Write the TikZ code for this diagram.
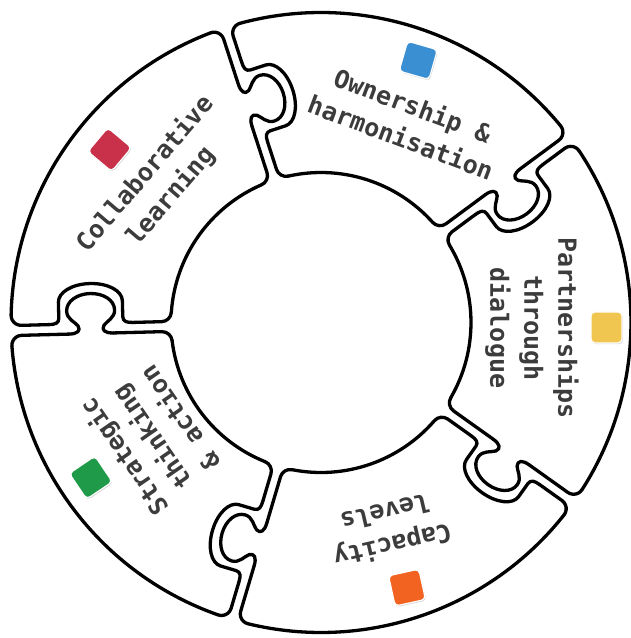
\documentclass[tikz,border=0pt]{standalone}
\usepackage{fontspec}
\newfontfamily\monof{DejaVu Sans Mono}
\usetikzlibrary{shadows}
\definecolor{txtc}{HTML}{3C3C3C}
\definecolor{cred}{HTML}{C9304A}
\definecolor{cblue}{HTML}{3A8FD3}
\definecolor{cyellow}{HTML}{F1C650}
\definecolor{corange}{HTML}{F26322}
\definecolor{cgreen}{HTML}{1F9A48}
\tikzset{
  outline/.style={draw=black,line width=3.3pt},
  lbl/.style={text=txtc,align=center,inner sep=0pt,font=\monof\bfseries\fontsize{25}{34}\selectfont},
  sq/.style={draw=white,line width=1.2pt,rounded corners=4pt,minimum size=31pt,inner sep=0pt,
    drop shadow={shadow xshift=0.8pt,shadow yshift=-1.2pt,opacity=0.35}}
}
\begin{document}
\begin{tikzpicture}[x=10pt,y=10pt,line cap=round,line join=round]
\useasboundingbox (-32.1,-31.55) rectangle (30.9,32.25);
\pgfmathsetmacro{\Ro}{31}
\pgfmathsetmacro{\Ri}{15}
\pgfmathsetmacro{\gp}{0.5}
\pgfmathsetmacro{\rc}{1.0}
\pgfmathsetmacro{\uo}{23}
\pgfmathsetmacro{\xo}{sqrt((\Ro-\rc)^2-(\gp+\rc)^2)}
\pgfmathsetmacro{\ao}{atan2(\gp+\rc,\xo)}
\pgfmathsetmacro{\xin}{sqrt((\Ri+\rc)^2-(\gp+\rc)^2)}
\pgfmathsetmacro{\ai}{atan2(\gp+\rc,\xin)}
% outer and inner arcs of the five pieces
\foreach \ta/\tb in {36.5/108,108/181.5,181.5/253.5,253.5/324.5,324.5/396.5}{
  \draw[outline] ({\ta+\ao}:\Ro) arc[start angle={\ta+\ao},end angle={\tb-\ao},radius=\Ro];
  \draw[outline] ({\ta+\ai}:\Ri) arc[start angle={\ta+\ai},end angle={\tb-\ai},radius=\Ri];
}
% the five joints
\foreach \t in {36.5,108,181.5,253.5,324.5}{
  \begin{scope}[rotate=\t]
    % knob side
    \draw[outline] (\ao:\Ro) arc[start angle=\ao,end angle=-90,radius=\rc] -- ({\uo+2.2},\gp);
    \draw[outline] ({\uo-2.2},\gp) -- (\xin,\gp) arc[start angle=-90,end angle={\ai-180},radius=\rc];
    \draw[outline,shift={(\uo,0)}] (-2.2,0.5) .. controls (-1.4,0.5) and (-1.0,0.2) .. (-1.3,-0.3)
      .. controls (-1.6,-0.7) and (-2.4,-1.0) .. (-2.4,-1.8)
      .. controls (-2.4,-2.8) and (-1.3,-3.5) .. (0,-3.5)
      .. controls (1.3,-3.5) and (2.4,-2.8) .. (2.4,-1.8)
      .. controls (2.4,-1.0) and (1.6,-0.7) .. (1.3,-0.3)
      .. controls (1.0,0.2) and (1.4,0.5) .. (2.2,0.5);
    % socket side
    \draw[outline] (-\ao:\Ro) arc[start angle=-\ao,end angle=90,radius=\rc] -- ({\uo+4.2},-\gp);
    \draw[outline] ({\uo-4.2},-\gp) -- (\xin,-\gp) arc[start angle=90,end angle={180-\ai},radius=\rc];
    \draw[outline,shift={(\uo,0)}] (-4.2,-0.5) .. controls (-3.6,-0.5) and (-3.2,-0.6) .. (-3.2,-1.1)
      -- (-3.2,-2.7) .. controls (-3.2,-3.7) and (-1.8,-4.5) .. (0,-4.5)
      .. controls (1.8,-4.5) and (3.2,-3.7) .. (3.2,-2.7) -- (3.2,-1.1)
      .. controls (3.2,-0.6) and (3.6,-0.5) .. (4.2,-0.5);
  \end{scope}
}
% labels
\node[lbl,rotate=-20.6] (own) at (8.6,20.15) {Ownership \&\\harmonisation};
\node[lbl,rotate=49.5] (col) at (-16.3,13.75) {Collaborative\\learning};
\node[lbl,rotate=-90] (par) at (21.1,-0.55) {Partnerships\\through\\dialogue};
\node[lbl,rotate=193] (cap) at (6.8,-20.75) {Capacity\\levels};
\node[lbl,rotate=124.6] (str) at (-17,-11.55) {Strategic\\thinking\\\& action};
% coloured squares
\node[sq,fill=cred,rotate=50] (sqr) at (-21.13,17.29) {};
\node[sq,fill=cblue,rotate=-16] (sqb) at (9.73,26.21) {};
\node[sq,fill=cyellow] (sqy) at (28.55,-0.49) {};
\node[sq,fill=corange,rotate=12.4] (sqo) at (8.6,-26.51) {};
\node[sq,fill=cgreen,rotate=34] (sqg) at (-23.02,-15.51) {};
\end{tikzpicture}
\end{document}
